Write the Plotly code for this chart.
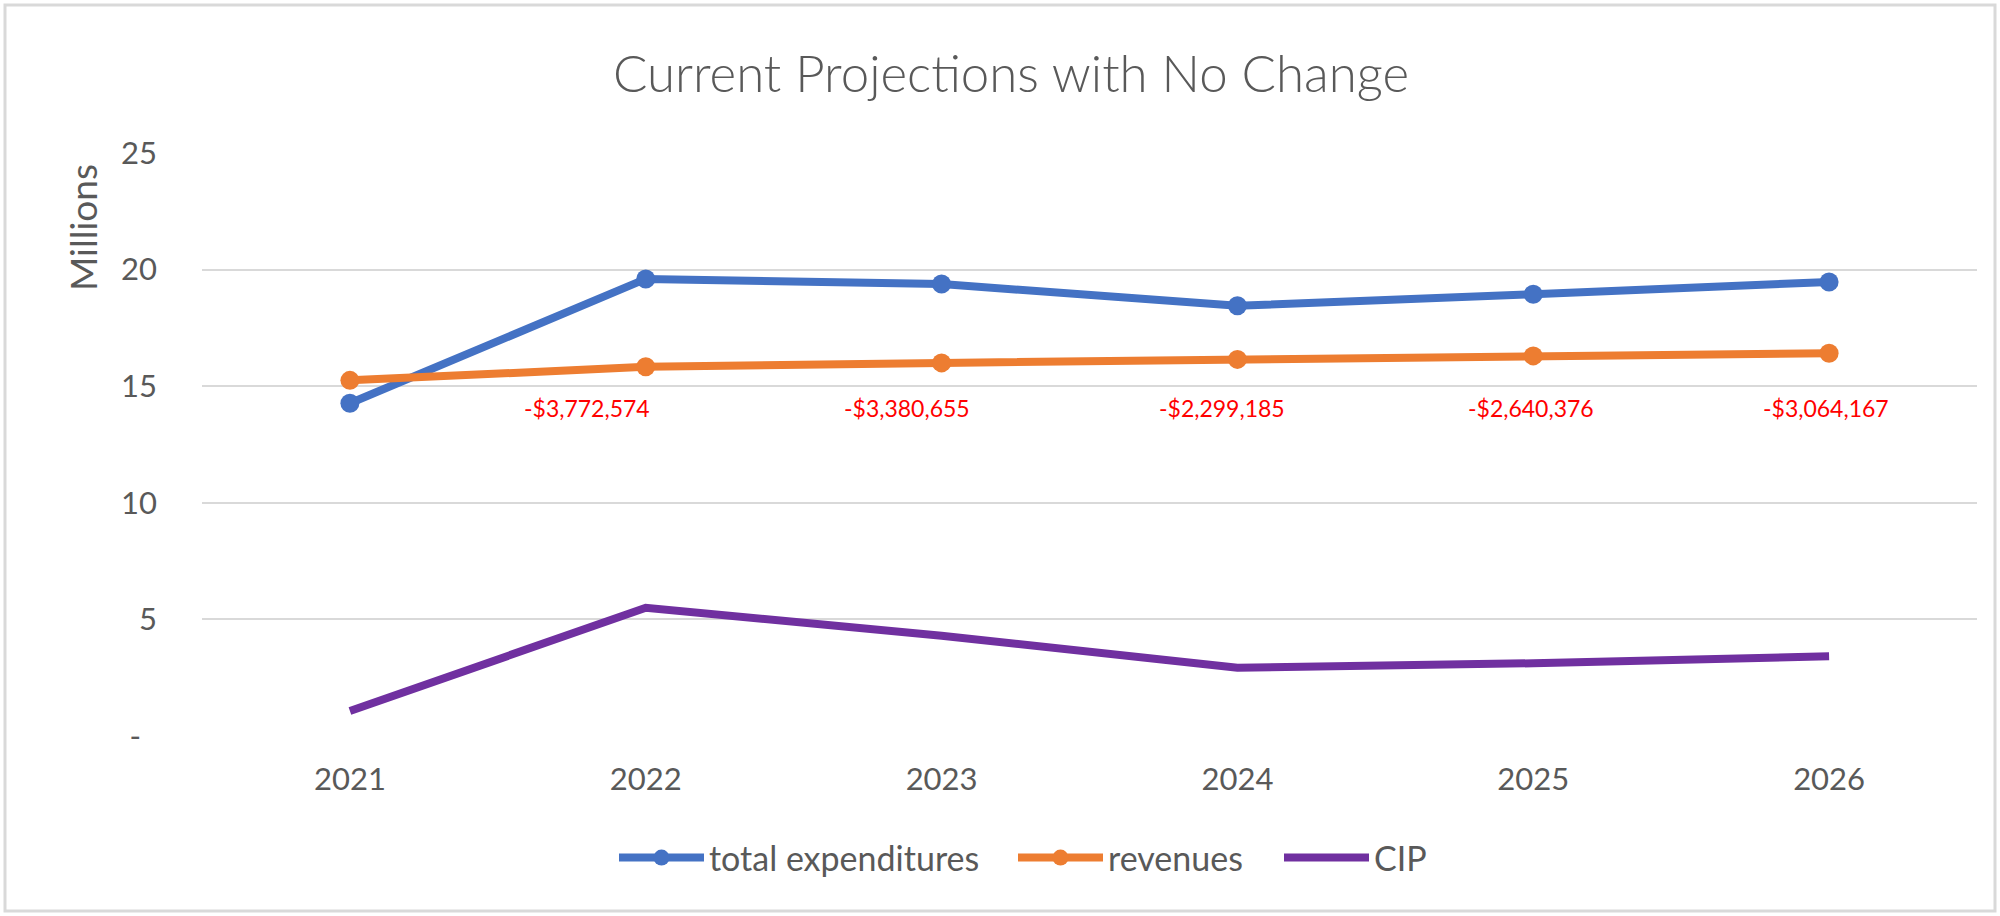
import plotly.graph_objects as go

years = ["2021", "2022", "2023", "2024", "2025", "2026"]
total_expenditures = [14.27, 19.60, 19.38, 18.45, 18.94, 19.47]
revenues = [15.25, 15.83, 16.00, 16.15, 16.30, 16.41]
cip = [1.07, 5.50, 4.30, 2.93, 3.12, 3.42]

gap_years = ["2022", "2023", "2024", "2025", "2026"]
gap_labels = ["-$3,772,574", "-$3,380,655", "-$2,299,185", "-$2,640,376", "-$3,064,167"]
gap_label_y = 14.07
gap_xshift = [-59, -35, -15, -2, -3]

y_tickvals = [0, 5, 10, 15, 20, 25]
y_ticktext = ["-\u00a0\u00a0", "5", "10", "15", "20", "25"]

FONT = "Lato"
GREY = "#595959"

# pixel geometry of the plot area
W, H = 2000, 916
L, R, T, B = 202, 1977, 153, 736
pw, ph = R - L, B - T


def px_x(p):
    return (p - L) / pw


def px_y(p):
    return (B - p) / ph


fig = go.Figure()
fig.add_trace(go.Scatter(x=years, y=total_expenditures, name="total expenditures",
                         mode="lines+markers", legend="legend",
                         line=dict(color="#4472C4", width=8),
                         marker=dict(color="#4472C4", size=19)))
fig.add_trace(go.Scatter(x=years, y=revenues, name="revenues",
                         mode="lines+markers", legend="legend2",
                         line=dict(color="#ED7D31", width=8),
                         marker=dict(color="#ED7D31", size=19)))
fig.add_trace(go.Scatter(x=years, y=cip, name="CIP", mode="lines", legend="legend3",
                         line=dict(color="#7030A0", width=8)))

for yr, txt, dx in zip(gap_years, gap_labels, gap_xshift):
    fig.add_annotation(x=years.index(yr), y=gap_label_y, xref="x", yref="y", text=txt,
                       showarrow=False, xshift=dx, xanchor="center", yanchor="middle",
                       font=dict(family=FONT, size=23, color="#FF0000"))

fig.add_annotation(x=px_x(82), y=px_y(228), xref="paper", yref="paper",
                   xanchor="center", yanchor="middle",
                   text="Millions", textangle=-90, showarrow=False,
                   font=dict(family=FONT, size=37, color=GREY))

fig.add_shape(type="rect", xref="paper", yref="paper",
              x0=px_x(5), x1=px_x(1995), y0=px_y(911), y1=px_y(5),
              line=dict(color="#D9D9D9", width=3), layer="below")

legend_style = dict(orientation="h", xanchor="left", yanchor="middle",
                    y=px_y(858), itemwidth=85, borderwidth=0,
                    font=dict(family=FONT, size=34, color=GREY),
                    bgcolor="rgba(0,0,0,0)")

fig.update_layout(
    width=W, height=H,
    margin=dict(l=L, r=W - R, t=T, b=H - B, pad=0),
    paper_bgcolor="white", plot_bgcolor="white",
    title=dict(text="Current Projections with No Change", x=1011 / W, xanchor="center",
               y=1 - 74 / H, yanchor="middle",
               font=dict(family=FONT, size=51, color=GREY, weight=300)),
    font=dict(family=FONT, color=GREY),
    showlegend=True,
    legend=dict(x=px_x(614), **legend_style),
    legend2=dict(x=px_x(1013), **legend_style),
    legend3=dict(x=px_x(1279), **legend_style),
    xaxis=dict(type="category", range=[-0.5, 5.5], showgrid=False, showline=False,
               zeroline=False, ticks="", ticklabelstandoff=22,
               tickfont=dict(family=FONT, size=31, color=GREY)),
    yaxis=dict(range=[0, 25], tickvals=y_tickvals, ticktext=y_ticktext,
               showgrid=True, gridcolor="#D9D9D9", gridwidth=2,
               zeroline=False, showline=False, ticks="", ticklabelstandoff=44,
               tickfont=dict(family=FONT, size=31, color=GREY)),
)

fig.write_html("out.html", config={"displayModeBar": False},
               post_script="document.body.style.margin='0';document.body.style.overflow='hidden';")
